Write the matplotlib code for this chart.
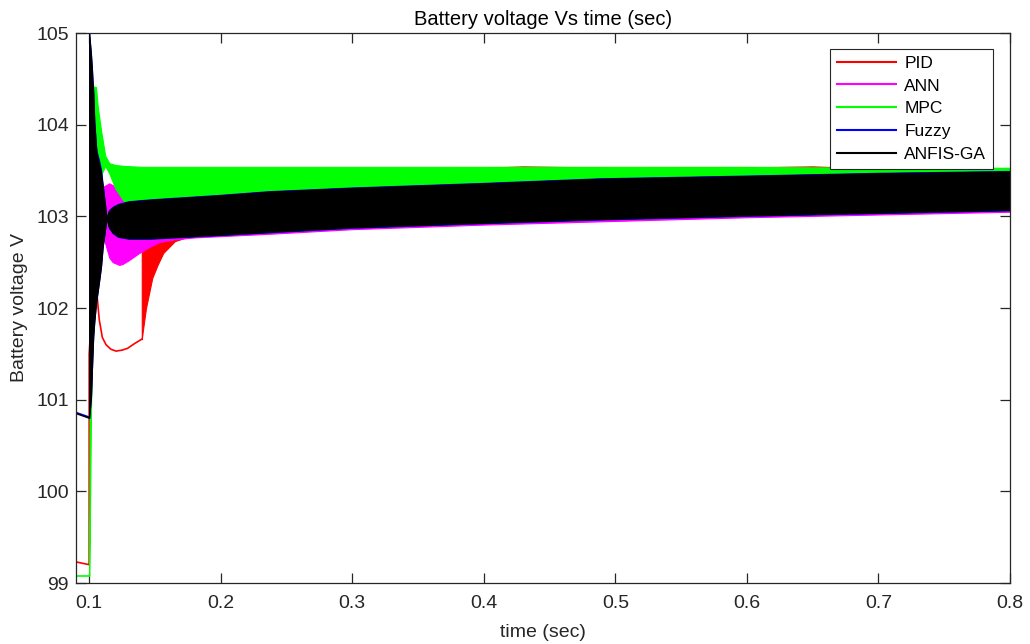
import matplotlib.pyplot as plt
from matplotlib.lines import Line2D

plt.rcParams['font.family'] = ['Liberation Sans', 'DejaVu Sans']

# ---- data (time in sec, voltage in V) ----
# single-line parts (before the oscillation starts)
pid_line_t = [0.09, 0.1, 0.1, 0.1035, 0.1057, 0.1077, 0.11, 0.1128, 0.1165, 0.1204, 0.125, 0.1292, 0.1343, 0.14]
pid_line_v = [99.23, 99.20, 101.5, 102.3, 102.18, 101.87, 101.68, 101.60, 101.55, 101.53, 101.54, 101.56, 101.61, 101.66]
mpc_line_t = [0.09, 0.1]
mpc_line_v = [99.08, 99.08]
fuzzy_line_t = [0.09, 0.1]
fuzzy_line_v = [100.86, 100.81]
anfis_line_t = [0.09, 0.1]
anfis_line_v = [100.85, 100.80]

# oscillating parts: lower / upper envelope of the band
pid_t = [0.14, 0.1406, 0.1432, 0.148, 0.152, 0.1563, 0.1652, 0.18, 0.2, 0.3, 0.4, 0.43, 0.5, 0.6, 0.65, 0.7, 0.8]
pid_lo = [101.66, 101.73, 102.0, 102.33, 102.47, 102.6, 102.73, 102.80, 102.82, 102.90, 102.95, 102.96, 102.99, 103.03, 103.04, 103.06, 103.09]
pid_hi = [103.0, 103.1, 103.25, 103.38, 103.43, 103.46, 103.49, 103.50, 103.51, 103.52, 103.53, 103.545, 103.53, 103.535, 103.545, 103.52, 103.52]

ann_t = [0.1, 0.1097, 0.1103, 0.1153, 0.1179, 0.1229, 0.1254, 0.13, 0.138, 0.1462, 0.1533, 0.1652, 0.18, 0.2373, 0.3, 0.4, 0.5, 0.6, 0.7, 0.8]
ann_lo = [102.9, 102.87, 102.8, 102.55, 102.50, 102.47, 102.48, 102.52, 102.60, 102.67, 102.72, 102.75, 102.77, 102.81, 102.86, 102.91, 102.95, 102.99, 103.02, 103.05]
ann_hi = [103.0, 103.31, 103.32, 103.36, 103.34, 103.25, 103.18, 103.15, 103.16, 103.17, 103.18, 103.19, 103.2, 103.24, 103.28, 103.33, 103.37, 103.4, 103.43, 103.45]

mpc_t = [0.1, 0.1005, 0.1015, 0.1027, 0.1052, 0.1065, 0.109, 0.1122, 0.1153, 0.12, 0.1267, 0.14, 0.2, 0.3, 0.4, 0.5, 0.6, 0.7, 0.8]
mpc_lo = [99.08, 99.6, 101.0, 101.9, 102.7, 103.0, 103.45, 103.55, 103.47, 103.3, 103.16, 103.13, 103.18, 103.26, 103.31, 103.36, 103.39, 103.42, 103.44]
mpc_hi = [99.08, 101.5, 103.6, 104.42, 104.41, 104.20, 103.94, 103.66, 103.58, 103.56, 103.55, 103.54, 103.54, 103.54, 103.54, 103.54, 103.54, 103.53, 103.53]

band_t = [0.1, 0.1014, 0.1021, 0.1027, 0.1031, 0.1039, 0.1052, 0.1057, 0.1077, 0.109, 0.1103, 0.1133,
          0.115, 0.118, 0.122, 0.13, 0.146, 0.2, 0.237, 0.3, 0.4, 0.488, 0.6, 0.7, 0.8]
fuzzy_lo = [100.80, 101.03, 101.32, 101.55, 101.69, 101.85, 102.05, 102.10, 102.31, 102.45, 102.67, 102.98,
            102.875, 102.815, 102.775, 102.755, 102.755, 102.795, 102.825, 102.875, 102.925, 102.965, 103.005, 103.035, 103.065]
fuzzy_hi = [105.0, 104.77, 104.62, 104.46, 104.38, 104.05, 103.78, 103.71, 103.6, 103.51, 103.35, 102.98,
            103.065, 103.105, 103.135, 103.165, 103.185, 103.235, 103.275, 103.315, 103.365, 103.415, 103.445, 103.475, 103.495]
anfis_lo = [100.80, 101.03, 101.32, 101.55, 101.69, 101.85, 102.05, 102.10, 102.31, 102.45, 102.67, 102.98,
            102.88, 102.82, 102.78, 102.76, 102.76, 102.80, 102.83, 102.88, 102.93, 102.97, 103.01, 103.04, 103.07]
anfis_hi = [105.0, 104.75, 104.6, 104.43, 104.35, 104.02, 103.75, 103.68, 103.57, 103.48, 103.33, 102.98,
            103.06, 103.10, 103.13, 103.16, 103.18, 103.23, 103.27, 103.31, 103.36, 103.41, 103.44, 103.47, 103.49]

names = ['PID', 'ANN', 'MPC', 'Fuzzy', 'ANFIS-GA']
colors = ['#ff0000', '#ff00ff', '#00ff00', '#0000ff', '#000000']

xticks = [0.1, 0.2, 0.3, 0.4, 0.5, 0.6, 0.7, 0.8]
yticks = [99, 100, 101, 102, 103, 104, 105]

fig = plt.figure(figsize=(10.3, 6.44), dpi=100)
ax = fig.add_axes([76 / 1030, 61 / 644, 934 / 1030, 550 / 644])

lw = 1.2
series = [
    (pid_line_t, pid_line_v, pid_t, pid_lo, pid_hi),
    (None, None, ann_t, ann_lo, ann_hi),
    (mpc_line_t, mpc_line_v, mpc_t, mpc_lo, mpc_hi),
    (fuzzy_line_t, fuzzy_line_v, band_t, fuzzy_lo, fuzzy_hi),
    (anfis_line_t, anfis_line_v, band_t, anfis_lo, anfis_hi),
]
# draw each series fully (line + band) above the previous one
for i, ((lt, lv, bt, lo, hi), c) in enumerate(zip(series, colors)):
    z = 2 + i
    if lt is not None:
        ax.plot(lt, lv, color=c, lw=lw, solid_joinstyle='round', zorder=z)
    ax.fill_between(bt, lo, hi, facecolor=c, edgecolor=c, lw=0.8, zorder=z)

ax.set_xlim(0.09, 0.8)
ax.set_ylim(99, 105)
ax.set_xticks(xticks)
ax.set_xticklabels([f'{v:g}' for v in xticks])
ax.set_yticks(yticks)
ax.set_yticklabels([str(v) for v in yticks])

axcol = '#262626'
for s in ax.spines.values():
    s.set_color(axcol)
    s.set_linewidth(0.9)
    s.set_zorder(10)
ax.tick_params(direction='in', length=7, width=0.9, color=axcol, labelcolor=axcol,
               top=True, right=True, labelsize=14)
ax.tick_params(axis='x', pad=8.5)
ax.tick_params(axis='y', pad=5)

ax.set_title('Battery voltage Vs time (sec)', fontsize=14.5, color='#000000', pad=6)
ax.set_xlabel('time (sec)', fontsize=14, color='#262626', labelpad=9)
ax.set_ylabel('Battery voltage V', fontsize=14, color='#262626', labelpad=6)

handles = [Line2D([0], [0], color=c, lw=1.5) for c in colors]
leg = ax.legend(handles, names, loc='upper right', bbox_to_anchor=(0.9818, 0.9709),
                borderaxespad=0, fontsize=12.5, handlelength=3.4, handletextpad=0.5,
                labelspacing=0.44, fancybox=False, framealpha=1, borderpad=0.38)
leg.set_zorder(20)
leg.get_frame().set_edgecolor('#262626')
leg.get_frame().set_linewidth(0.8)

fig.savefig('out.png', dpi=100)
